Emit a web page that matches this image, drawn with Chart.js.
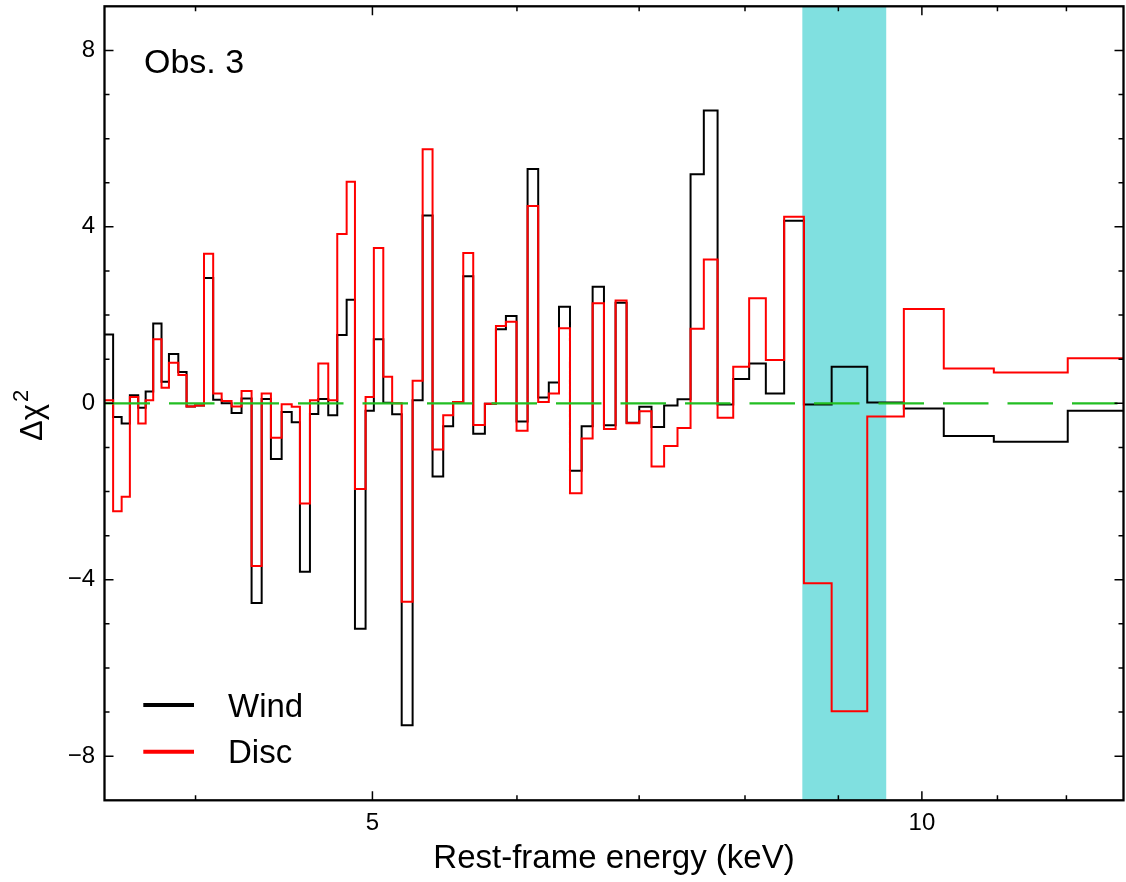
<!DOCTYPE html>
<html>
<head>
<meta charset="utf-8">
<script src="https://cdn.jsdelivr.net/npm/chart.js@4.4.0/dist/chart.umd.min.js"></script>
<style>
  html, body { margin: 0; padding: 0; background: #fff; }
  canvas { display: block; }
</style>
</head>
<body>
<canvas id="chart" width="1126" height="882"></canvas>
<script>
// bin edges in rest-frame keV (74 edges -> 73 bins)
const binEdges = [
  3.55, 3.605, 3.644, 3.682, 3.721, 3.756, 3.792, 3.832, 3.868, 3.914,
  3.955, 3.997, 4.043, 4.090, 4.134, 4.186, 4.239, 4.293, 4.348, 4.399,
  4.459, 4.516, 4.563, 4.621, 4.670, 4.729, 4.783, 4.840, 4.891, 4.957,
  5.009, 5.069, 5.126, 5.188, 5.260, 5.327, 5.394, 5.467, 5.536, 5.607,
  5.678, 5.762, 5.843, 5.917, 5.997, 6.081, 6.163, 6.246, 6.327, 6.415,
  6.510, 6.601, 6.696, 6.795, 6.890, 7.001, 7.110, 7.224, 7.347, 7.469,
  7.595, 7.728, 7.882, 8.042, 8.213, 8.405, 8.617, 8.924, 9.334, 9.775,
  10.28, 10.95, 12.02, 13.2
]

// delta chi^2 per bin
const windDelta = [
  1.56, -0.31, -0.46, 0.18, -0.10, 0.27, 1.81, 0.49, 1.12, 0.71,
  -0.07, -0.05, 2.84, 0.08, 0.00, -0.22, 0.11, -4.53, 0.10, -1.26,
  -0.20, -0.43, -3.82, -0.24, 0.10, -0.27, 1.55, 2.35, -5.11, -0.17,
  1.45, 0.01, -0.25, -7.30, 0.07, 4.26, -1.66, -0.52, 0.03, 2.88,
  -0.69, -0.01, 1.68, 1.98, -0.41, 5.31, 0.13, 0.47, 2.19, -1.53,
  -0.52, 2.64, -0.50, 2.28, -0.44, -0.08, -0.54, -0.05, 0.09, 5.19,
  6.64, -0.03, 0.55, 0.90, 0.22, 4.14, -0.03, 0.83, 0.02, -0.12,
  -0.74, -0.87, -0.17
]
const discDelta = [
  0.07, -2.45, -2.12, 0.14, -0.46, 0.07, 1.45, 0.35, 0.92, 0.64,
  -0.07, -0.05, 3.39, 0.22, 0.05, -0.07, 0.28, -3.69, 0.22, -0.78,
  -0.02, -0.08, -2.27, 0.07, 0.90, 0.07, 3.84, 5.02, -1.94, 0.14,
  3.52, 0.60, 0.00, -4.50, 0.51, 5.76, -1.05, -0.27, 0.03, 3.41,
  -0.49, -0.01, 1.75, 1.85, -0.62, 4.47, 0.03, 0.22, 1.70, -2.04,
  -0.80, 2.27, -0.58, 2.33, -0.45, -0.18, -1.43, -0.97, -0.56, 1.69,
  3.26, -0.33, 0.83, 2.38, 0.98, 4.23, -4.08, -6.98, -0.30, 2.14,
  0.79, 0.70, 1.02
]

const bandRange = [8.60, 9.56]       // shaded energy band (keV)
const xLimits = [3.566, 12.896]
const yLimits = [-9, 9]
const xTickValues = [4, 5, 6, 7, 8, 9, 10, 11, 12]
const xMajorTicks = [5, 10]
const yMajorStep = 4
const obsLabel = 'Obs. 3'
const seriesNames = ['Wind', 'Disc']
const seriesColors = ['#000000', '#ff0000']

const FONT = "'Liberation Sans', Arial, Helvetica, sans-serif"

// step outline: value of bin i held from edge i to edge i+1
function toSteps(values) {
  const pts = values.map((v, i) => ({ x: binEdges[i], y: v }))
  pts.push({ x: binEdges[values.length], y: values[values.length - 1] })
  return pts
}

const framePlugin = {
  id: 'frame',
  beforeDatasetsDraw(chart) {
    const { ctx, chartArea: a, scales: { x } } = chart
    const x0 = x.getPixelForValue(bandRange[0])
    const x1 = x.getPixelForValue(bandRange[1])
    ctx.save()
    ctx.fillStyle = 'rgb(128, 224, 224)'
    ctx.fillRect(x0, a.top, x1 - x0, a.bottom - a.top)
    ctx.restore()
  },
  afterDatasetsDraw(chart) {
    const { ctx, chartArea: a, scales: { x, y } } = chart
    ctx.save()
    ctx.strokeStyle = '#000'

    // inward ticks on all four sides
    ctx.lineWidth = 1.5
    ctx.beginPath()
    xTickValues.forEach(v => {
      const px = x.getPixelForValue(v)
      const len = xMajorTicks.includes(v) ? 9 : 5
      ctx.moveTo(px, a.bottom); ctx.lineTo(px, a.bottom - len)
      ctx.moveTo(px, a.top); ctx.lineTo(px, a.top + len)
    })
    for (let v = yLimits[0] + 1; v < yLimits[1]; v++) {
      const py = y.getPixelForValue(v)
      const len = v % yMajorStep === 0 ? 9 : 5
      ctx.moveTo(a.left, py); ctx.lineTo(a.left + len, py)
      ctx.moveTo(a.right, py); ctx.lineTo(a.right - len, py)
    }
    ctx.stroke()

    // spines
    ctx.lineWidth = 2.3
    ctx.strokeRect(a.left, a.top, a.right - a.left, a.bottom - a.top)

    // y axis title with a real superscript
    ctx.fillStyle = '#000'
    ctx.textAlign = 'left'
    ctx.textBaseline = 'alphabetic'
    ctx.save()
    ctx.translate(42, 441)
    ctx.rotate(-Math.PI / 2)
    ctx.font = '31px ' + FONT
    ctx.fillText('Δχ', 0, 0)
    const w = ctx.measureText('Δχ').width
    ctx.font = '22px ' + FONT
    ctx.fillText('2', w + 2, -14)
    ctx.restore()

    // observation label
    ctx.font = '34px ' + FONT
    ctx.fillText(obsLabel, a.left + 39.5, 73)

    // legend
    ctx.font = '33px ' + FONT
    seriesNames.forEach((name, i) => {
      const ly = 705 + i * 46.7
      ctx.strokeStyle = seriesColors[i]
      ctx.lineWidth = 4
      ctx.beginPath()
      ctx.moveTo(143.3, ly); ctx.lineTo(194, ly)
      ctx.stroke()
      ctx.fillStyle = '#000'
      ctx.fillText(name, 228, ly + 11.7)
    })
    ctx.restore()
  }
}

const ctx = document.getElementById('chart').getContext('2d')
new Chart(ctx, {
  type: 'line',
  data: {
    datasets: [
      {
        label: 'zero',
        data: [{ x: xLimits[0], y: 0 }, { x: xLimits[1], y: 0 }],
        borderColor: 'rgb(34, 190, 34)',
        borderWidth: 2.3,
        borderDash: [45.5, 19],
        pointRadius: 0,
        order: 1
      },
      {
        label: seriesNames[1],
        data: toSteps(discDelta),
        stepped: 'before',
        borderColor: seriesColors[1],
        borderWidth: 2,
        pointRadius: 0,
        order: 2
      },
      {
        label: seriesNames[0],
        data: toSteps(windDelta),
        stepped: 'before',
        borderColor: seriesColors[0],
        borderWidth: 2,
        pointRadius: 0,
        order: 3
      }
    ]
  },
  options: {
    responsive: false,
    animation: false,
    devicePixelRatio: 1,
    layout: { padding: { top: 6.3, right: 2.5, left: 0, bottom: 0 } },
    plugins: {
      legend: { display: false },
      tooltip: { enabled: false }
    },
    scales: {
      x: {
        type: 'logarithmic',
        min: xLimits[0],
        max: xLimits[1],
        grid: { display: false, drawTicks: false },
        border: { display: false },
        afterBuildTicks: s => { s.ticks = xTickValues.map(v => ({ value: v })) },
        afterFit: s => { s.height = 81.7; s.paddingLeft = 0; s.paddingRight = 0 },
        ticks: {
          autoSkip: false,
          maxRotation: 0,
          padding: 9,
          color: '#000',
          font: { family: FONT, size: 24 },
          callback: v => xMajorTicks.includes(v) ? String(v) : ''
        },
        title: {
          display: true,
          text: 'Rest-frame energy (keV)',
          color: '#000',
          font: { family: FONT, size: 33 },
          padding: { top: 0, bottom: 3 }
        }
      },
      y: {
        type: 'linear',
        min: yLimits[0],
        max: yLimits[1],
        grid: { display: false, drawTicks: false },
        border: { display: false },
        afterFit: s => { s.width = 104.5; s.paddingTop = 0; s.paddingBottom = 0 },
        ticks: {
          stepSize: 1,
          autoSkip: false,
          padding: 9.5,
          color: '#000',
          font: { family: FONT, size: 24 },
          callback: v => v % yMajorStep === 0 ? (v < 0 ? '\u2212' + (-v) : String(v)) : ''
        }
      }
    }
  },
  plugins: [framePlugin]
})
</script>
</body>
</html>
